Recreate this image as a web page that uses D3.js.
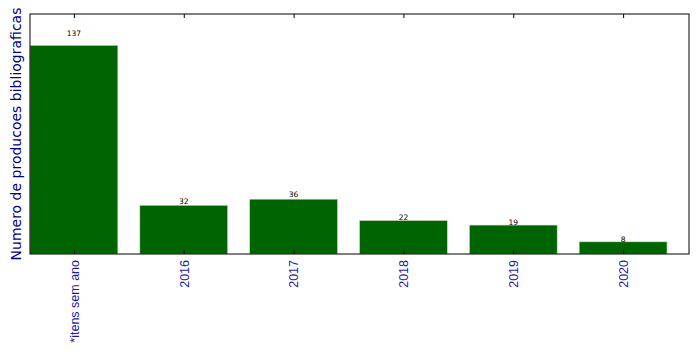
<!DOCTYPE html>
<html><head><meta charset="utf-8">
<script src="https://cdn.jsdelivr.net/npm/d3@7"></script>
<style>body{margin:0;background:#fff}svg{display:block;font-family:"DejaVu Sans",sans-serif}</style>
</head><body>
<script>
const categories = ["*itens sem ano","2016","2017","2018","2019","2020"];
const values = [137,32,36,22,19,8];

const W=699,H=354, L=30,R=689,T=14,B=254;
const svg=d3.select("body").append("svg").attr("width",W).attr("height",H);
const x=d3.scaleLinear().domain([-0.4,categories.length-0.4]).range([L,R]);
const y=d3.scaleLinear().domain([0,d3.max(values)*1.15]).range([B,T]);
const bw=0.8;

svg.selectAll("rect.bar").data(values).enter().append("rect")
  .attr("x",(d,i)=>x(i-bw/2)).attr("width",(d,i)=>x(i+bw/2)-x(i-bw/2))
  .attr("y",d=>y(d)).attr("height",d=>B-y(d))
  .attr("fill","#006400").attr("stroke","#cfe0cf").attr("stroke-width",0.6);

svg.selectAll("text.val").data(values).enter().append("text")
  .attr("x",(d,i)=>x(i)).attr("y",d=>y(d*1.05)+1)
  .attr("text-anchor","middle").attr("font-size",7.5).attr("fill","#000")
  .text(d=>d);

// frame
svg.append("rect").attr("x",L).attr("y",T).attr("width",R-L).attr("height",B-T)
  .attr("fill","none").attr("stroke","#000").attr("stroke-width",1);

// bottom axis
const xb=d3.axisBottom(x).tickValues(d3.range(categories.length)).tickSize(-4).tickFormat(i=>categories[i]);
const gb=svg.append("g").attr("transform",`translate(0,${B})`).call(xb);
gb.select(".domain").remove();
gb.selectAll(".tick line").attr("stroke","#000");
gb.selectAll(".tick text").attr("fill","#1a1aa6").attr("font-size",12.5)
  .attr("transform","rotate(-90)").attr("text-anchor","end")
  .attr("x",-6).attr("y",0).attr("dy","0.35em");

// top ticks
const xt=d3.axisTop(x).tickValues(d3.range(categories.length)).tickSize(-4).tickFormat("");
const gt=svg.append("g").attr("transform",`translate(0,${T})`).call(xt);
gt.select(".domain").remove();
gt.selectAll(".tick line").attr("stroke","#000");

// y label
svg.append("text").attr("transform",`translate(21,${(T+B)/2}) rotate(-90)`)
  .attr("text-anchor","middle").attr("font-size",14).attr("fill","#00008b")
  .text("Numero de producoes bibliograficas");
</script>
</body></html>
